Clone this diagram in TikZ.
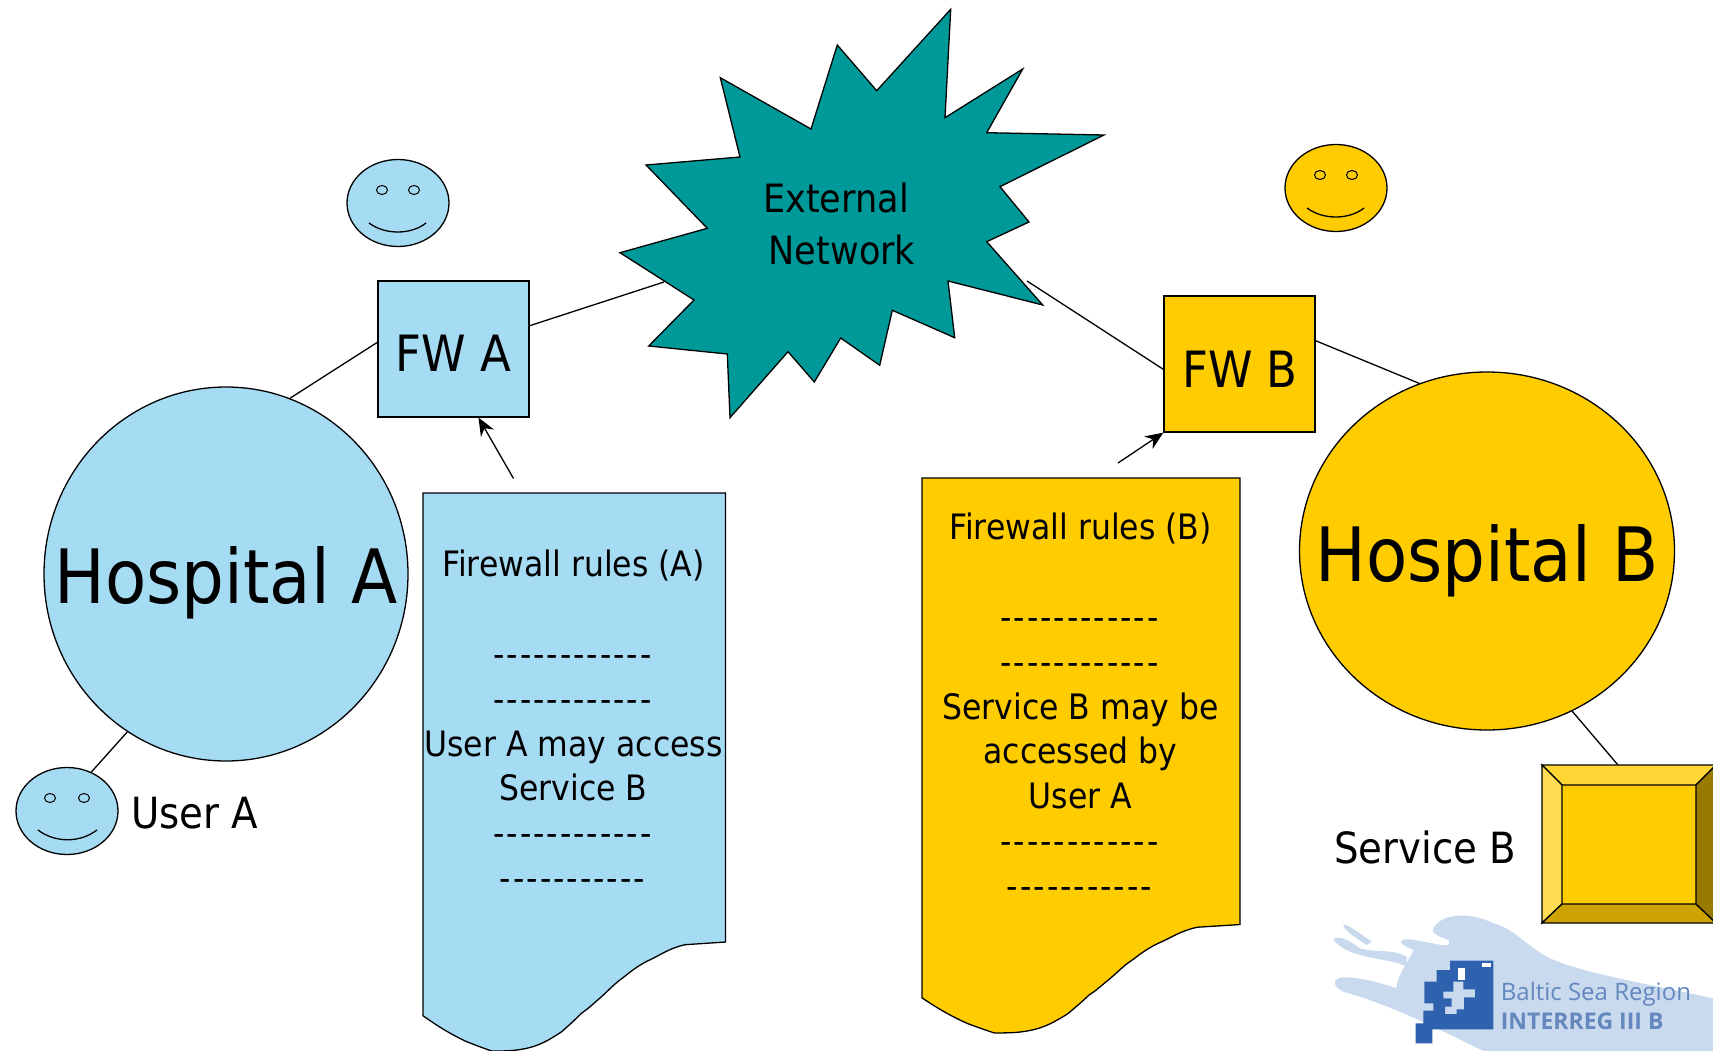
\documentclass[tikz,border=0pt]{standalone}
\usepackage{fontspec}
\setmainfont[FakeStretch=0.9]{DejaVu Sans}
\newfontfamily\logofont{Open Sans}
\newcommand\hy{-\kern 2pt}
\newcommand\rowL{\hy\hy\hy\hy\hy\hy\hy\hy\hy\hy\hy\hy}
\newcommand\rowS{\hy\hy\hy\hy\hy\hy\hy\hy\hy\hy\hy}
\definecolor{lblue}{HTML}{A6DBF4}
\definecolor{gold}{HTML}{FFCC00}
\definecolor{teal2}{HTML}{009999}
\definecolor{logopale}{HTML}{C9D9EE}
\definecolor{logodark}{HTML}{2F62AE}
\definecolor{logotext}{HTML}{6488BE}
\usetikzlibrary{shapes.geometric,arrows.meta}
\tikzset{
  outline/.style={draw=black,line width=1.3pt},
  link/.style={draw=black,line width=1.3pt},
  pointer/.style={draw=black,line width=1.3pt,-{Stealth[length=18pt,width=15pt]}},
  fwbox/.style={outline,minimum width=151pt,minimum height=136pt,inner sep=0pt},
  hosp/.style={outline,ellipse,inner sep=0pt},
  face/.style={outline,ellipse,minimum width=102pt,minimum height=87pt,inner sep=0pt},
  eye/.style={draw=black,line width=1pt,ellipse,minimum width=11pt,minimum height=9pt,inner sep=0pt},
  lbl/.style={inner sep=0pt,anchor=base},
  rules/.style={inner sep=0pt,anchor=north,align=center,font=\fontsize{35}{44.8}\selectfont},
}
\begin{document}
\begin{tikzpicture}[x=1pt,y=-1pt]
\useasboundingbox[fill=white] (0,0) rectangle (1713,1051);
% logo
\begin{scope}[shift={(1280,740)},scale=0.33333]
\fill[logopale] (460,565) .. controls (480,525) and (560,510) .. (640,550) .. controls (700,565) and (730,610) .. (800,650) .. controls (900,700) and (1100,730) .. (1299,775) -- (1299,933) -- (610,933) .. controls (500,880) and (350,800) .. (190,755) .. controls (150,735) and (160,710) .. (200,712) .. controls (260,715) and (320,735) .. (350,745) .. controls (345,715) and (400,640) .. (400,630) .. controls (330,600) and (370,590) .. (430,605) .. controls (470,610) and (520,630) .. (505,600) .. controls (480,590) and (450,580) .. (460,565) -- cycle;
\fill[logopale] (160,600) .. controls (170,585) and (200,595) .. (240,625) .. controls (300,640) and (330,625) .. (380,650) -- (380,680) .. controls (320,650) and (210,660) .. (160,600) -- cycle;
\fill[logopale] (190,555) .. controls (200,550) and (240,580) .. (275,605) -- (260,615) .. controls (230,595) and (190,570) .. (190,555) -- cycle;
\fill[logodark,even odd rule] (510,662) -- (640,662) -- (640,868) -- (457,868) -- (457,910) -- (407,910) -- (407,850) -- (430,850) -- (430,812) -- (460,812) -- (460,790) -- (433,790) -- (433,725) -- (470,725) -- (470,690) -- (510,690) -- cycle
 (520,725) -- (550,725) -- (550,748) -- (585,748) -- (585,772) -- (552,772) -- (552,808) -- (530,808) -- (530,822) -- (495,822) -- (495,800) -- (515,800) -- (515,775) -- (490,775) -- (490,755) -- (520,755) -- cycle;
\fill[white] (605,670) rectangle (632,682);
\fill[white] (535,685) rectangle (555,720);
\node[lbl,anchor=base west,text=logotext,font=\logofont\fontsize{24}{24}\selectfont] (logoA) at (662,780) {Baltic Sea Region};
\node[lbl,anchor=base west,text=logotext,font=\logofont\bfseries\fontsize{23}{23}\selectfont] (logoB) at (662,868) {INTERREG III B};
\end{scope}
% hospital nodes, firewalls
\node[hosp,minimum width=364pt,minimum height=374pt,fill=lblue] (hospA) at (226,574) {};
\node[hosp,minimum width=375pt,minimum height=358pt,fill=gold] (hospB) at (1487,551) {};
\node[fwbox,fill=lblue] (fwA) at (453.5,349) {};
\node[fwbox,fill=gold] (fwB) at (1239.5,364) {};
\node[face,fill=lblue] (userA) at (67,811) {};
\coordinate (starL) at (664,282);
\coordinate (starR) at (1027,281);
\coordinate (serviceTop) at (1618,765);
% connectors
\draw[link] (hospA.70) -- (fwA.175);
\draw[link] (fwA.17) -- (starL);
\draw[link] (starR) -- (fwB.184);
\draw[link] (fwB.17) -- (hospB.112);
\draw[link] (hospB.-62) -- (serviceTop);
\draw[link] (userA.58) -- (hospA.-122);
% star
\draw[outline,fill=teal2,line join=miter] (950.7,9.3) -- (945,117.7) -- (1022.7,69) -- (986.7,132.7) -- (1104,135) -- (1000,186.7) -- (1029,222) -- (986.7,241.7) -- (1042.7,305) -- (948,281) -- (954.7,337.7) -- (892.3,310.3) -- (879.7,365.3) -- (840.7,338) -- (814.3,382) -- (788,351.7) -- (730,417.7) -- (727.3,354) -- (648.7,346) -- (694,300) -- (620,252.7) -- (707.3,228.3) -- (646,165) -- (740,157) -- (720.3,77.7) -- (811,129) -- (837.3,45) -- (876.7,90.7) -- cycle;
\node[inner sep=0pt,align=center,font=\fontsize{39}{52}\selectfont] (ext) at (842,224) {External\hspace*{12pt}\\Network};
% labels in boxes
\node[lbl,font=\fontsize{75}{75}\selectfont] (hospAt) at (226,603) {Hospital A};
\node[lbl,font=\fontsize{75}{75}\selectfont] (hospBt) at (1487,581) {Hospital B};
\node[lbl,font=\fontsize{50}{50}\selectfont] (fwAt) at (453.5,371) {FW A};
\node[lbl,font=\fontsize{50}{50}\selectfont] (fwBt) at (1240,387) {FW B};
\node[lbl,anchor=base west,font=\fontsize{43}{43}\selectfont] (userAt) at (131,828) {User A};
\node[lbl,anchor=base west,font=\fontsize{43}{43}\selectfont] (serviceBt) at (1334,863) {Service B};
% documents
\draw[outline,fill=lblue] (423,493) -- (725.5,493) -- (725.5,942) -- (685,944.7) .. controls (670,948) and (660,955) .. (651.7,959) .. controls (640,964) and (630,972) .. (623,977.7) .. controls (615,983) and (607,992) .. (600,998) .. controls (594,1003) and (588,1009) .. (581.7,1013) .. controls (575,1020) and (568,1026) .. (561.7,1031.7) .. controls (555,1036) and (549,1040) .. (543,1042.7) .. controls (534,1047) and (525,1049) .. (516.7,1050) .. controls (510,1051) and (500,1051) .. (491.7,1051) .. controls (483,1048) and (475,1045) .. (466.7,1041.7) .. controls (450,1034) and (436,1025) .. (423,1015.7) -- cycle;
\coordinate (docAtop) at (513.5,478.5);
\begin{scope}[shift={(922,478)},xscale=1.0512,yscale=0.9945,shift={(-423,-493)}]
\draw[outline,fill=gold] (423,493) -- (725.5,493) -- (725.5,942) -- (685,944.7) .. controls (670,948) and (660,955) .. (651.7,959) .. controls (640,964) and (630,972) .. (623,977.7) .. controls (615,983) and (607,992) .. (600,998) .. controls (594,1003) and (588,1009) .. (581.7,1013) .. controls (575,1020) and (568,1026) .. (561.7,1031.7) .. controls (555,1036) and (549,1040) .. (543,1042.7) .. controls (534,1047) and (525,1049) .. (516.7,1050) .. controls (510,1051) and (500,1051) .. (491.7,1051) .. controls (483,1048) and (475,1045) .. (466.7,1041.7) .. controls (450,1034) and (436,1025) .. (423,1015.7) -- cycle;
\end{scope}
\coordinate (docBtop) at (1118,463);
\node[rules] (rulesA) at (573.5,550) {Firewall rules (A)\\[44.8pt]\rowL\\\rowL\\User A may access\\Service B\\\rowL\\\rowS};
\node[rules] (rulesB) at (1080.5,513) {Firewall rules (B)\\[44.8pt]\rowL\\\rowL\\Service B may be\hspace*{10pt}\\accessed by\\User A\\\rowL\\\rowS};
\draw[pointer] (docAtop) -- (fwA.-70);
\draw[pointer] (docBtop) -- (fwB.south west);
% smileys
\node[face,fill=lblue] (smA) at (398,203) {};
\node[eye] (smAl) at (382,190) {};
\node[eye] (smAr) at (414,190) {};
\draw[link] (369,223) .. controls (385,235) and (411,235) .. (426,223);
\node[face,fill=gold] (smB) at (1336,188) {};
\node[eye] (smBl) at (1320,175) {};
\node[eye] (smBr) at (1352,175) {};
\draw[link] (1307,208) .. controls (1323,220) and (1349,220) .. (1364,208);
\node[eye] (uAl) at (50,798) {};
\node[eye] (uAr) at (84,798) {};
\draw[link] (38,830) .. controls (55,843) and (80,843) .. (97,830);
% service B
\fill[gold] (1562,785) rectangle (1696,904);
\filldraw[draw=black,line width=1.3pt,fill=gold!80!white] (1542,765) -- (1716,765) -- (1696,785) -- (1562,785) -- cycle;
\filldraw[draw=black,line width=1.3pt,fill=gold!68!white] (1542,765) -- (1562,785) -- (1562,904) -- (1542,923) -- cycle;
\filldraw[draw=black,line width=1.3pt,fill=gold!80!black] (1542,923) -- (1562,904) -- (1696,904) -- (1716,923) -- cycle;
\filldraw[draw=black,line width=1.3pt,fill=gold!60!black] (1696,785) -- (1716,765) -- (1716,923) -- (1696,904) -- cycle;
\end{tikzpicture}
\end{document}
